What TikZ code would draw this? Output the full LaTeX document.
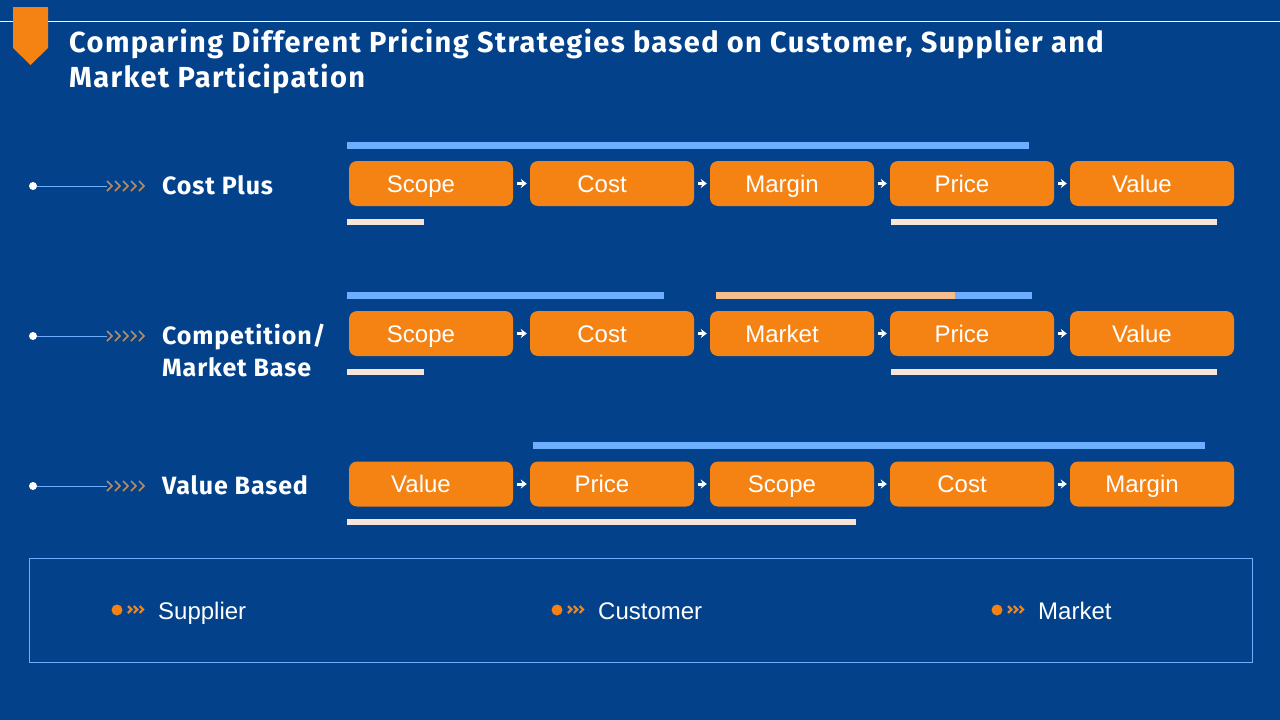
\documentclass[tikz,border=0pt]{standalone}
\usepackage{fontspec}
\setmainfont{Liberation Sans}
\newfontfamily\titlefont[LetterSpace=4.8]{Fira Sans}
\newfontfamily\labelfont[LetterSpace=3.5]{Fira Sans}
\usetikzlibrary{arrows.meta}
\definecolor{pagebg}{HTML}{03418A}
\definecolor{boxorange}{HTML}{F58314}
\definecolor{barblue}{HTML}{6DAEFF}
\definecolor{barbeige}{HTML}{F8E4D8}
\definecolor{barpeach}{HTML}{F5BE8C}
\definecolor{chevronbrown}{HTML}{B58E63}
\tikzset{
  stepbox/.style={fill=boxorange, rounded corners=8pt, minimum width=164pt, minimum height=45pt,
    inner sep=0pt, text=white, text height=20pt, text depth=3pt,
    font=\fontsize{24}{24}\selectfont, execute at end node={\hspace{20pt}}},
  flowarrow/.style={draw=white, line width=3pt, shorten <=4pt, shorten >=3pt, -{Stealth[length=6pt,width=9pt]}},
  rowlabel/.style={anchor=west, inner sep=0pt, text=white, align=left, font=\labelfont\bfseries\fontsize{25}{32}\selectfont},
  legendlabel/.style={anchor=base west, inner sep=0pt, text=white, font=\fontsize{24}{24}\selectfont},
  rowdot/.style={circle, fill=white, inner sep=0pt, minimum size=8pt},
  legenddot/.style={circle, fill=boxorange, inner sep=0pt, minimum size=11pt},
  chevrons/.pic={
    \draw[chevronbrown, line width=1.7pt]
      (0, -5) -- (5, 0) -- (0, 5) (8, -5) -- (13, 0) -- (8, 5) (16, -5) -- (21, 0) -- (16, 5)
      (24, -5) -- (29, 0) -- (24, 5) (32, -5) -- (37, 0) -- (32, 5);
  },
  smallchevrons/.pic={
    \draw[boxorange, line width=2.2pt]
      (0, -3.5) -- (3.5, 0) -- (0, 3.5) (5.8, -3.5) -- (9.3, 0) -- (5.8, 3.5) (11.6, -3.5) -- (15.1, 0) -- (11.6, 3.5);
  }
}
\begin{document}
\begin{tikzpicture}[x=1pt, y=-1pt]
  \useasboundingbox (0, 0) rectangle (1280, 720);
  \fill[pagebg] (0, 0) rectangle (1280, 720);
  % header
  \draw[white, line width=1pt] (0, 21.5) -- (1280, 21.5);
  \fill[boxorange] (13, 7) -- (48, 7) -- (48, 48) -- (30.5, 65) -- (13, 48) -- cycle;
  \node[anchor=north west, inner sep=0pt, text=white, align=left,
    font=\titlefont\bfseries\fontsize{29}{35}\selectfont] (title) at (69, 29)
    {Comparing Different Pricing Strategies based on Customer, Supplier and\\Market Participation};
  % row labels
  \node[rowdot] (dota) at (33, 186) {};
  \node[rowdot] (dotb) at (33, 336) {};
  \node[rowdot] (dotc) at (33, 486) {};
  \coordinate (chevrona) at (107, 186);
  \coordinate (chevronb) at (107, 336);
  \coordinate (chevronc) at (107, 486);
  \draw[barblue, line width=.8pt] (dota) -- (chevrona);
  \draw[barblue, line width=.8pt] (dotb) -- (chevronb);
  \draw[barblue, line width=.8pt] (dotc) -- (chevronc);
  \pic at (chevrona) {chevrons};
  \pic at (chevronb) {chevrons};
  \pic at (chevronc) {chevrons};
  \node[rowlabel] (labela) at (162, 185.5) {Cost Plus};
  \node[rowlabel] (labelb) at (162, 350.5) {Competition/\\Market Base};
  \node[rowlabel] (labelc) at (162, 485.5) {Value Based};
  % bars, first row
  \fill[barblue] (347, 142) rectangle (1029, 149);
  \fill[barbeige] (347, 219) rectangle (424, 225);
  \fill[barbeige] (891, 219) rectangle (1217, 225);
  % bars, second row
  \fill[barblue] (347, 292) rectangle (664, 299);
  \fill[barpeach] (716, 292) rectangle (955, 299);
  \fill[barblue] (955, 292) rectangle (1032, 299);
  \fill[barbeige] (347, 369) rectangle (424, 375);
  \fill[barbeige] (891, 369) rectangle (1217, 375);
  % bars, third row
  \fill[barblue] (533, 442) rectangle (1205, 449);
  \fill[barbeige] (347, 519) rectangle (856, 525);
  % first row
  \node[stepbox] (scopea) at (431, 183.5) {Scope};
  \node[stepbox] (costa) at (612, 183.5) {Cost};
  \node[stepbox] (margina) at (792, 183.5) {Margin};
  \node[stepbox] (pricea) at (972, 183.5) {Price};
  \node[stepbox] (valuea) at (1152, 183.5) {Value};
  \draw[flowarrow] (scopea) -- (costa);
  \draw[flowarrow] (costa) -- (margina);
  \draw[flowarrow] (margina) -- (pricea);
  \draw[flowarrow] (pricea) -- (valuea);
  % second row
  \node[stepbox] (scopeb) at (431, 333.5) {Scope};
  \node[stepbox] (costb) at (612, 333.5) {Cost};
  \node[stepbox] (marketb) at (792, 333.5) {Market};
  \node[stepbox] (priceb) at (972, 333.5) {Price};
  \node[stepbox] (valueb) at (1152, 333.5) {Value};
  \draw[flowarrow] (scopeb) -- (costb);
  \draw[flowarrow] (costb) -- (marketb);
  \draw[flowarrow] (marketb) -- (priceb);
  \draw[flowarrow] (priceb) -- (valueb);
  % third row
  \node[stepbox] (valuec) at (431, 484) {Value};
  \node[stepbox] (pricec) at (612, 484) {Price};
  \node[stepbox] (scopec) at (792, 484) {Scope};
  \node[stepbox] (costc) at (972, 484) {Cost};
  \node[stepbox] (marginc) at (1152, 484) {Margin};
  \draw[flowarrow] (valuec) -- (pricec);
  \draw[flowarrow] (pricec) -- (scopec);
  \draw[flowarrow] (scopec) -- (costc);
  \draw[flowarrow] (costc) -- (marginc);
  % legend
  \draw[barblue, line width=.8pt] (29.5, 558.5) rectangle (1252.5, 662.5);
  \node[legenddot] (dotsupplier) at (117, 610) {};
  \node[legenddot] (dotcustomer) at (557, 610) {};
  \node[legenddot] (dotmarket) at (997, 610) {};
  \pic at (128, 609.5) {smallchevrons};
  \pic at (568, 609.5) {smallchevrons};
  \pic at (1008, 609.5) {smallchevrons};
  \node[legendlabel] (supplier) at (158, 619) {Supplier};
  \node[legendlabel] (customer) at (598, 619) {Customer};
  \node[legendlabel] (market) at (1038, 619) {Market};
\end{tikzpicture}
\end{document}
